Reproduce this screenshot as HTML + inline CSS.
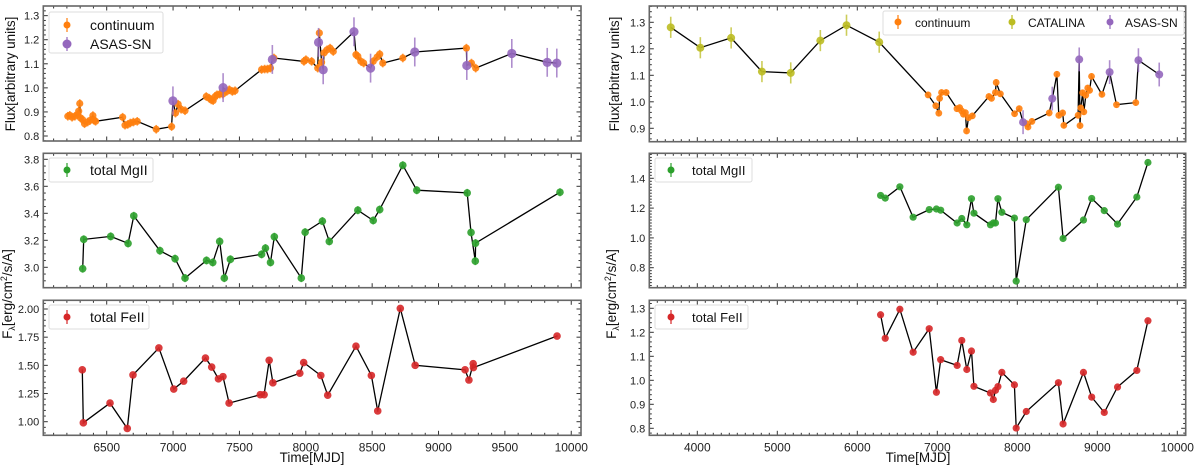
<!DOCTYPE html>
<html><head><meta charset="utf-8">
<style>
body{margin:0;background:#fff;}
svg{display:block;font-family:"Liberation Sans","DejaVu Sans",sans-serif;}
</style></head>
<body>
<svg id="fig" width="1200" height="470" viewBox="0 0 1200 470"></svg>
<script>
// ---------- DATA ----------
const leftContT=[6207,6222,6239,6260,6283,6289,6297,6303,6318,6333,6356,6376,6396,6405,6416,6620,6638,6658,6678,6701,6730,6873,6989,7018,7038,7061,7090,7250,7273,7288,7302,7317,7331,7352,7375,7404,7424,7447,7467,7667,7690,7711,7734,7760,7986,8001,8044,8090,8102,8119,8137,8160,8183,8207,8378,8392,8415,8436,8508,8537,8557,8580,8731,9210,9248,9280];
const leftContV=[0.882,0.886,0.878,0.882,0.889,0.903,0.935,0.875,0.868,0.851,0.858,0.865,0.885,0.865,0.861,0.878,0.845,0.848,0.854,0.858,0.861,0.828,0.839,0.895,0.932,0.911,0.905,0.964,0.957,0.950,0.947,0.964,0.971,0.974,0.974,0.985,0.992,0.985,0.988,1.076,1.078,1.078,1.082,1.124,1.110,1.117,1.110,1.082,1.228,1.106,1.145,1.158,1.165,1.151,1.138,1.131,1.110,1.103,1.110,1.128,1.140,1.103,1.124,1.165,1.103,1.082];
const leftAsasT=[6999,7377,7748,8096,8131,8363,8488,8821,9213,9552,9819,9891];
const leftAsasV=[0.946,1.001,1.118,1.189,1.075,1.233,1.082,1.149,1.093,1.143,1.106,1.103];

const rightCatT=[3668,4038,4423,4808,5168,5538,5865,6274];
const rightCatV=[1.281,1.204,1.241,1.114,1.109,1.231,1.289,1.225];
const rightContT=[6885,6981,7019,7029,7053,7111,7246,7279,7303,7327,7351,7366,7390,7438,7645,7678,7726,7736,7789,7966,8024,8110,8134,8183,8399,8495,8519,8567,8582,8760,8784,8793,8817,8832,8856,8880,8904,8928,9058,9240,9481];
const rightContV=[1.026,0.985,0.957,1.013,1.035,1.035,0.974,0.978,0.966,0.953,0.959,0.890,0.940,0.947,1.020,1.013,1.035,1.073,1.030,0.955,0.974,0.918,0.905,0.926,0.958,1.104,0.949,0.958,0.911,0.949,0.910,0.977,1.034,0.962,1.025,1.052,1.043,1.096,1.028,0.989,0.997];
const rightAsasT=[8072,8437,8774,9154,9514,9774];
const rightAsasV=[0.923,1.012,1.160,1.112,1.157,1.103];

const mgLeftT=[6319,6327,6530,6661,6704,6901,7015,7090,7252,7299,7351,7386,7432,7667,7696,7734,7763,7966,7995,8125,8177,8392,8508,8557,8731,8836,9216,9245,9277,9279,9915];
const mgLeftV=[2.99,3.207,3.229,3.177,3.381,3.123,3.064,2.92,3.051,3.036,3.192,2.92,3.059,3.096,3.142,3.036,3.226,2.92,3.26,3.342,3.192,3.423,3.347,3.428,3.756,3.571,3.551,3.258,3.046,3.179,3.556];
const feLeftT=[6316,6324,6525,6655,6698,6893,7005,7080,7244,7291,7342,7376,7422,7657,7686,7724,7752,7955,7984,8113,8165,8378,8494,8542,8712,8824,9200,9229,9261,9263,9893];
const feLeftV=[1.46,0.99,1.165,0.94,1.415,1.655,1.29,1.36,1.565,1.485,1.38,1.40,1.165,1.24,1.24,1.545,1.345,1.43,1.525,1.41,1.235,1.67,1.41,1.095,2.005,1.50,1.46,1.37,1.515,1.48,1.76];

const rightT=[6291,6349,6532,6698,6899,6989,7042,7248,7306,7369,7427,7458,7664,7700,7727,7758,7807,7964,7986,8112,8514,8572,8827,8930,9087,9253,9494,9633];
const mgRightV=[1.285,1.267,1.343,1.139,1.19,1.194,1.186,1.10,1.13,1.088,1.263,1.166,1.088,1.10,1.10,1.263,1.172,1.133,0.71,1.122,1.34,0.996,1.12,1.265,1.183,1.093,1.274,1.506];
const feRightV=[1.273,1.175,1.296,1.117,1.215,0.95,1.086,1.062,1.166,1.045,1.122,0.975,0.947,0.92,0.958,0.974,1.033,0.981,0.801,0.87,0.99,0.818,1.033,0.93,0.866,0.972,1.041,1.248];

const leftXTicks=[6500,7000,7500,8000,8500,9000,9500,10000];
const rightXTicks=[4000,5000,6000,7000,8000,9000,10000];

// ---------- HELPERS ----------
const NS="http://www.w3.org/2000/svg";
const svg=document.getElementById('fig');
function mk(tag,attrs,parent){const e=document.createElementNS(NS,tag);for(const k in attrs)e.setAttribute(k,attrs[k]);(parent||svg).appendChild(e);return e;}
const C={orange:'#ff7f0e',purple:'#9467bd',green:'#2ca02c',red:'#d62728',olive:'#bcbd22'};

function makeAxes(name,x0,x1,t0,t1,y0,y1,v0,v1){
  return {name,x0,x1,y0,y1,
    sx:t=>x0+(t-t0)/(t1-t0)*(x1-x0),
    sy:v=>y1-(v-v0)/(v1-v0)*(y1-y0),t0,t1,v0,v1};
}
function frame(ax,xMaj,xMin,yMaj,yMin,yFmt,showXLabels){
  const g=mk('g',{});
  
  
  for(let t=Math.ceil(ax.t0/xMin)*xMin;t<=ax.t1;t+=xMin){
    const maj=Math.abs(t/xMaj-Math.round(t/xMaj))<1e-6; const L=maj?4.5:2.5; const x=ax.sx(t);
    mk('line',{x1:x,x2:x,y1:ax.y1,y2:ax.y1-L,stroke:'#333','stroke-width':1},g);
    mk('line',{x1:x,x2:x,y1:ax.y0,y2:ax.y0+L,stroke:'#333','stroke-width':1},g);
  }
  if(showXLabels){
    for(const t of showXLabels){
      const tx=mk('text',{x:ax.sx(t),y:ax.y1+16,'text-anchor':'middle','font-size':12,fill:'#222'},g);
      tx.textContent=t;
      
      
    }
  }
  const n0=Math.ceil(ax.v0/yMin-1e-6),n1=Math.floor(ax.v1/yMin+1e-6);
  for(let n=n0;n<=n1;n++){
    const v=n*yMin; const r=v/yMaj; const maj=Math.abs(r-Math.round(r))<1e-6; const L=maj?4.5:2.5; const y=ax.sy(v);
    mk('line',{x1:ax.x0,x2:ax.x0+L,y1:y,y2:y,stroke:'#333','stroke-width':1},g);
    mk('line',{x1:ax.x1,x2:ax.x1-L,y1:y,y2:y,stroke:'#333','stroke-width':1},g);
    if(maj){
      const tx=mk('text',{x:ax.x0-4,y:y+4,'text-anchor':'end','font-size':11,fill:'#222'},g);
      tx.textContent=v.toFixed(yFmt);
      
      
    }
  }
  mk('rect',{x:ax.x0,y:ax.y0,width:ax.x1-ax.x0,height:ax.y1-ax.y0,fill:'none',stroke:'#666','stroke-width':1.6},g);
  return g;
}
function linePath(ax,T,V,nm){
  const idx=T.map((t,i)=>i).sort((a,b)=>T[a]-T[b]);
  const d=idx.map((i,k)=>(k?'L':'M')+ax.sx(T[i]).toFixed(1)+','+ax.sy(V[i]).toFixed(1)).join(' ');
  const p=mk('path',{d,fill:'none',stroke:'#000','stroke-width':1.3});
  
  
}
function points(ax,T,V,color,r,err,nm){
  const g=mk('g',{});
  
  
  T.forEach((t,i)=>{
    const x=ax.sx(t),y=ax.sy(V[i]);
    if(err){mk('line',{x1:x,x2:x,y1:ax.sy(V[i]-err),y2:ax.sy(V[i]+err),stroke:color,'stroke-width':1.6,opacity:0.75},g);}
    const c=mk('circle',{cx:x,cy:y,r:r,fill:color,opacity:0.9},g);
    
    
  });
}
function legend(x,y,w,h,entries){
  const g=mk('g',{});
  
  
  mk('rect',{x,y,width:w,height:h,rx:2,fill:'#fff',stroke:'#ddd','stroke-width':1},g);
  entries.forEach(e=>{
    mk('line',{x1:e.mx,x2:e.mx,y1:e.my-7,y2:e.my+7,stroke:e.c,'stroke-width':1.5,opacity:0.8},g);
    mk('circle',{cx:e.mx,cy:e.my,r:e.r||3.5,fill:e.c},g);
    const t=mk('text',{x:e.tx,y:e.my+5,'font-size':e.fs||14,fill:'#111'},g);
    t.textContent=e.label;
    
    
  });
}

// ---------- AXES ----------
const LX0=43.3,LX1=581,RX0=649.3,RX1=1185.7;
const lt0=6500-(106.7-LX0)/0.13273, lt1=6500+(LX1-106.7)/0.13273;
const rt0=4000-(697.3-RX0)/0.08, rt1=4000+(RX1-697.3)/0.08;

const aTL=makeAxes('top-left',LX0,LX1,lt0,lt1,6,141,0.8-5/240.7,0.8+130/240.7);
const aML=makeAxes('mgii-left',LX0,LX1,lt0,lt1,153.3,287.7,3-(287.7-267.3)/135,3+(267.3-153.3)/135);
const aBL=makeAxes('feii-left',LX0,LX1,lt0,lt1,300.3,435.3,1-(435.3-421.7)/112.7,1+(421.7-300.3)/112.7);
const aTR=makeAxes('top-right',RX0,RX1,rt0,rt1,6,141.7,0.9-(141.7-128.3)/265,0.9+(128.3-6)/265);
const aMR=makeAxes('mgii-right',RX0,RX1,rt0,rt1,153.3,287.7,0.8-(287.7-267.7)/149,0.8+(267.7-153.3)/149);
const aBR=makeAxes('feii-right',RX0,RX1,rt0,rt1,300.3,435.3,0.8-(435.3-428.3)/240,0.8+(428.3-300.3)/240);

frame(aTL,500,100,0.1,0.02,1,null);
frame(aML,500,100,0.2,0.05,1,null);
frame(aBL,500,100,0.25,0.05,2,leftXTicks);
frame(aTR,1000,100,0.1,0.02,1,null);
frame(aMR,1000,100,0.2,0.02,1,null);
frame(aBR,1000,100,0.1,0.02,1,rightXTicks);

// ---------- SERIES ----------
linePath(aTL,leftContT.concat(leftAsasT),leftContV.concat(leftAsasV),'top-left-line');
points(aTL,leftContT,leftContV,C.orange,3.6,0.018,'continuum-left');
points(aTL,leftAsasT,leftAsasV,C.purple,4.6,0.06,'asassn-left');

linePath(aTR,rightCatT.concat(rightContT,rightAsasT),rightCatV.concat(rightContV,rightAsasV),'top-right-line');
points(aTR,rightContT,rightContV,C.orange,3.4,0.012,'continuum-right');
points(aTR,rightCatT,rightCatV,C.olive,4,0.04,'catalina-right');
points(aTR,rightAsasT,rightAsasV,C.purple,4,0.045,'asassn-right');

linePath(aML,mgLeftT,mgLeftV,'mgii-left-line');
points(aML,mgLeftT,mgLeftV,C.green,3.8,0.03,'mgii-left');
linePath(aBL,feLeftT,feLeftV,'feii-left-line');
points(aBL,feLeftT,feLeftV,C.red,3.8,0.01,'feii-left');
linePath(aMR,rightT,mgRightV,'mgii-right-line');
points(aMR,rightT,mgRightV,C.green,3.6,0.005,'mgii-right');
linePath(aBR,rightT,feRightV,'feii-right-line');
points(aBR,rightT,feRightV,C.red,3.6,0.005,'feii-right');

// ---------- LEGENDS ----------
legend(49,12,114,41,[{mx:67,my:25,c:C.orange,tx:90,label:'continuum'},{mx:67,my:44,c:C.purple,r:4.5,tx:90,label:'ASAS-SN'}]);
legend(883,11,301,24,[{mx:898,my:22,c:C.orange,tx:915,label:'continuum',fs:12},{mx:1012,my:22,c:C.olive,tx:1028,label:'CATALINA',fs:12},{mx:1110,my:22,c:C.purple,tx:1125,label:'ASAS-SN',fs:12}]);
legend(49,158,104,24,[{mx:67,my:170,c:C.green,tx:90,label:'total MgII'}]);
legend(49,305,100,24,[{mx:67,my:317,c:C.red,tx:90,label:'total FeII'}]);
legend(655,158,97,24,[{mx:671,my:170,c:C.green,tx:692,label:'total MgII',fs:13}]);
legend(655,305,93,24,[{mx:671,my:317,c:C.red,tx:692,label:'total FeII',fs:13}]);

// ---------- AXIS TITLES ----------
function title(txt,x,y,rot,nm){
  const t=mk('text',{x,y,'text-anchor':'middle','font-size':13.5,fill:'#111',transform:rot?`rotate(-90 ${x} ${y})`:''});
  t.innerHTML=txt;
  
  
}
title('Flux[arbitrary units]',15,74,true,'y-axis-title-flux-left');
title('Flux[arbitrary units]',619,74,true,'y-axis-title-flux-right');
title('F<tspan font-size="9" dy="3">λ</tspan><tspan dy="-3">[erg/cm</tspan><tspan font-size="9" dy="-5">2</tspan><tspan dy="5">/s/A]</tspan>',12,294,true,'y-axis-title-f-left');
title('F<tspan font-size="9" dy="3">λ</tspan><tspan dy="-3">[erg/cm</tspan><tspan font-size="9" dy="-5">2</tspan><tspan dy="5">/s/A]</tspan>',616,294,true,'y-axis-title-f-right');
title('Time[MJD]',312,462,false,'x-axis-title-left');
title('Time[MJD]',918,462,false,'x-axis-title-right');
</script>
</body></html>
